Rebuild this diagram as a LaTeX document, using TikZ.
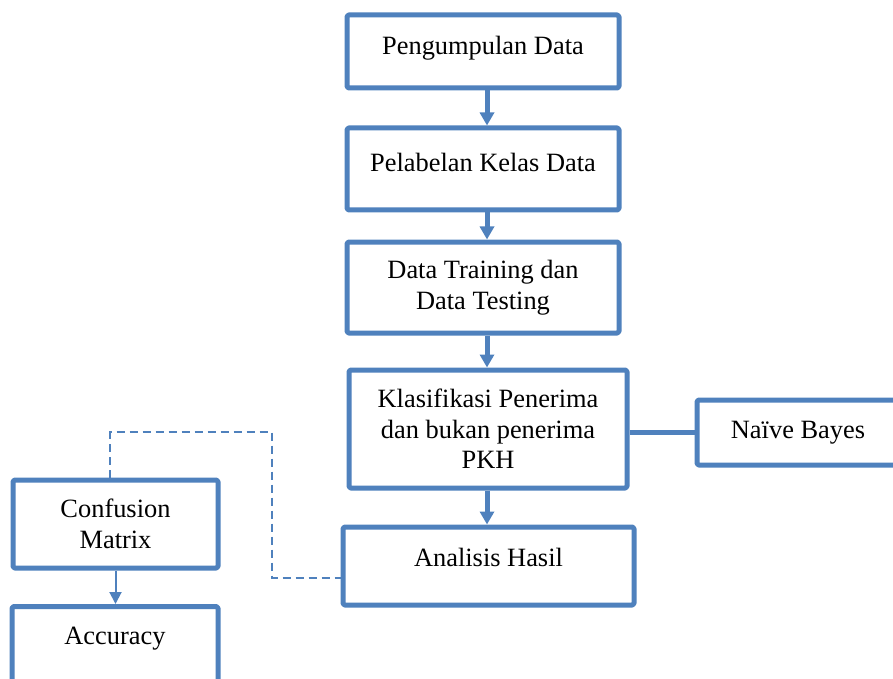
\documentclass[tikz,border=0pt]{standalone}
\usepackage{fontspec}
\setmainfont{Liberation Serif}
\usetikzlibrary{arrows.meta}
\definecolor{flowblue}{HTML}{4F81BD}
\tikzset{
  stepbox/.style={draw=flowblue, line width=2.5pt, line join=round, rounded corners=0.8pt,
    fill=white, align=center, inner sep=2pt, font=\fontsize{13.2}{15.2}\selectfont},
  flowarrow/.style={draw=flowblue, line width=2.5pt, -{Triangle[width=7pt,length=6.5pt]}},
  thinarrow/.style={draw=flowblue, line width=1pt, -{Triangle[width=6pt,length=6pt]}},
  link/.style={draw=flowblue, line width=2.5pt},
  dashlink/.style={draw=flowblue, line width=1pt, dash pattern=on 4pt off 2.5pt}
}
\begin{document}
\begin{tikzpicture}[x=0.5pt,y=-0.5pt]
\useasboundingbox (0,0) rectangle (893,679);
\clip (0,0) rectangle (893,679);

% main pipeline
\node[stepbox, minimum width=136pt, minimum height=36.5pt, text depth=5.9pt] (collect) at (483,51.5) {Pengumpulan Data};
\node[stepbox, minimum width=136pt, minimum height=41pt, text depth=7pt] (label) at (483,169) {Pelabelan Kelas Data};
\node[stepbox, minimum width=136pt, minimum height=45.5pt] (split) at (483,287.5) {Data Training dan\\Data Testing};
\node[stepbox, minimum width=139pt, minimum height=59pt] (classify) at (488,429) {Klasifikasi Penerima\\dan bukan penerima\\PKH};
\node[stepbox, minimum width=145.5pt, minimum height=39pt, text depth=9pt] (analysis) at (488.5,566) {Analisis Hasil};

% method box on the right
\node[stepbox, minimum width=101pt, minimum height=32.5pt] (bayes) at (798,432.5) {Naïve Bayes};

% evaluation on the left
\node[stepbox, minimum width=102.5pt, minimum height=44pt] (confusion) at (115.5,524) {Confusion\\Matrix};
\node[stepbox, anchor=north, minimum width=103pt, inner ysep=10.5pt, text depth=40pt] (accuracy) at (115,604) {Accuracy};

% connectors
\draw[flowarrow] ([xshift=2pt]collect.south) -- ([xshift=2pt]label.north);
\draw[flowarrow] ([xshift=2pt]label.south) -- ([xshift=2pt]split.north);
\draw[flowarrow] ([xshift=2pt]split.south) -- ([xshift=-0.5pt]classify.north);
\draw[flowarrow] ([xshift=-0.5pt]classify.south) -- ([xshift=-0.75pt]analysis.north);
\draw[link] (bayes.west -| classify.east) -- (bayes.west);
\draw[thinarrow] (confusion.south) -- (confusion.south |- accuracy.north);
\coordinate (turnA) at (110,432);
\coordinate (turnB) at (272,432);
\coordinate (turnC) at (272,578);
\draw[dashlink] ([xshift=-2.75pt]confusion.north) -- (turnA) -- (turnB) -- (turnC) -- (turnC -| analysis.west);
\end{tikzpicture}
\end{document}
